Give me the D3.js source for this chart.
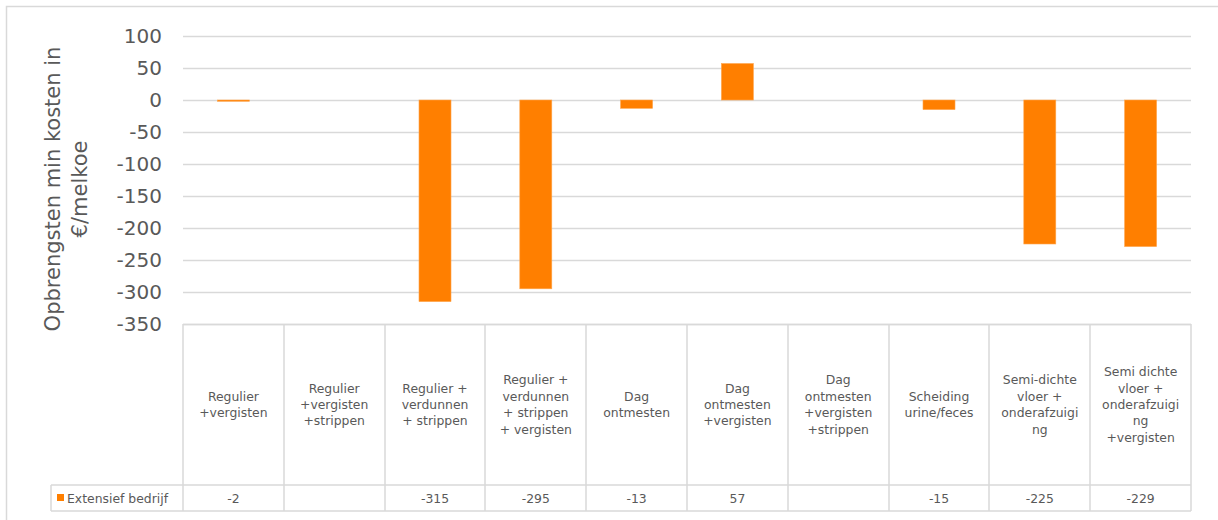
<!DOCTYPE html>
<html>
<head>
<meta charset="utf-8">
<script src="https://cdn.jsdelivr.net/npm/d3@7/dist/d3.min.js"></script>
<style>
  html, body { margin: 0; padding: 0; background: #fff; }
  svg { display: block; }
  text { font-family: "DejaVu Sans", Verdana, sans-serif; fill: #595959; }
</style>
</head>
<body>
<svg id="chart" width="1218" height="520"></svg>
<script>
// Scenario names (line breaks as shown in the data table)
const categories = [
  "Regulier\n+vergisten",
  "Regulier\n+vergisten\n+strippen",
  "Regulier +\nverdunnen\n+ strippen",
  "Regulier +\nverdunnen\n+ strippen\n+ vergisten",
  "Dag\nontmesten",
  "Dag\nontmesten\n+vergisten",
  "Dag\nontmesten\n+vergisten\n+strippen",
  "Scheiding\nurine/feces",
  "Semi-dichte\nvloer +\nonderafzuigi\nng",
  "Semi dichte\nvloer +\nonderafzuigi\nng\n+vergisten"
];
// Revenue minus costs per dairy cow (€), null = no value
const extensiefValues = [-2, null, -315, -295, -13, 57, null, -15, -225, -229];
const seriesName = "Extensief bedrijf";
const yTicks = [100, 50, 0, -50, -100, -150, -200, -250, -300, -350];
const yTitle = ["Opbrengsten min kosten in", "€/melkoe"];

const svg = d3.select("#chart");
const plotLeft = 183, plotRight = 1191, plotTop = 36, plotBottom = 324;
const tableBottom = 511, rowSplit = 485, legendLeft = 51;
const grid = "#d9d9d9";
const orange = "#ff7f00";

// Outer chart frame
svg.append("rect")
  .attr("x", 6.5).attr("y", 6.5).attr("width", 1230).attr("height", 530)
  .attr("fill", "none").attr("stroke", grid).attr("stroke-width", 1.5);

const y = d3.scaleLinear().domain([-350, 100]).range([plotBottom, plotTop]);
const idx = d3.range(categories.length);
const xBar = d3.scaleBand().domain(idx).range([plotLeft, plotRight])
  .paddingInner(0.6825).paddingOuter(0.6825 / 2);
const xCell = d3.scaleBand().domain(idx).range([plotLeft, plotRight]).padding(0);

// Gridlines
svg.append("g").selectAll("line").data(yTicks).join("line")
  .attr("x1", plotLeft).attr("x2", plotRight)
  .attr("y1", d => Math.round(y(d)) + 0.5).attr("y2", d => Math.round(y(d)) + 0.5)
  .attr("stroke", grid).attr("stroke-width", 1.5);

// Y axis tick labels (plain hyphen as minus sign)
const yAxis = d3.axisLeft(y).tickValues(yTicks).tickSize(0).tickPadding(0)
  .tickFormat(d => String(d));
const yg = svg.append("g").attr("transform", `translate(162,0)`).call(yAxis);
yg.select(".domain").remove();
yg.selectAll("text")
  .attr("font-family", "'DejaVu Sans', Verdana, sans-serif")
  .attr("font-size", 20).style("fill", "#595959");

// Y axis title
const title = svg.append("text")
  .attr("transform", "translate(66,189) rotate(-90)")
  .attr("text-anchor", "middle").attr("font-size", 21);
title.selectAll("tspan").data(yTitle).join("tspan")
  .attr("x", 0).attr("dy", (d, i) => i === 0 ? "-0.3em" : "1.3em")
  .text(d => d);

// Bars
svg.append("g").selectAll("rect")
  .data(extensiefValues.map((v, i) => ({ v, i })).filter(d => d.v !== null))
  .join("rect")
  .attr("x", d => xBar(d.i))
  .attr("width", xBar.bandwidth())
  .attr("y", d => y(Math.max(0, d.v)))
  .attr("height", d => Math.abs(y(d.v) - y(0)))
  .attr("fill", orange)
  .attr("stroke", "#ffa64d").attr("stroke-width", 0.6);

// Data table
const tg = svg.append("g");
tg.append("line").attr("x1", plotLeft).attr("x2", plotRight)
  .attr("y1", plotBottom + 0.5).attr("y2", plotBottom + 0.5)
  .attr("stroke", grid).attr("stroke-width", 1.5);
tg.append("line").attr("x1", legendLeft).attr("x2", plotRight)
  .attr("y1", rowSplit).attr("y2", rowSplit)
  .attr("stroke", grid).attr("stroke-width", 1.5);
tg.append("line").attr("x1", legendLeft).attr("x2", plotRight)
  .attr("y1", tableBottom).attr("y2", tableBottom)
  .attr("stroke", grid).attr("stroke-width", 1.5);
tg.append("line").attr("x1", legendLeft).attr("x2", legendLeft)
  .attr("y1", rowSplit).attr("y2", tableBottom)
  .attr("stroke", grid).attr("stroke-width", 1.5);
const borders = idx.map(i => xCell(i)).concat([plotRight]);
tg.selectAll("line.v").data(borders).join("line").attr("class", "v")
  .attr("x1", d => Math.round(d)).attr("x2", d => Math.round(d))
  .attr("y1", plotBottom).attr("y2", tableBottom)
  .attr("stroke", grid).attr("stroke-width", 1.5);

// Category labels, vertically centred in the header cells
const lineH = 16.4;
const cellMid = (plotBottom + rowSplit) / 2;
categories.forEach((c, i) => {
  const lines = c.split("\n");
  const t = tg.append("text")
    .attr("text-anchor", "middle").attr("font-size", 12.4)
    .attr("x", xCell(i) + xCell.bandwidth() / 2);
  lines.forEach((l, j) => {
    t.append("tspan")
      .attr("x", xCell(i) + xCell.bandwidth() / 2)
      .attr("y", cellMid + (j - (lines.length - 1) / 2) * lineH + 4.5)
      .text(l);
  });
});

// Value row
tg.selectAll("text.val").data(extensiefValues).join("text").attr("class", "val")
  .attr("x", (d, i) => xCell(i) + xCell.bandwidth() / 2)
  .attr("y", (rowSplit + tableBottom) / 2 + 4.5)
  .attr("text-anchor", "middle").attr("font-size", 12.4)
  .text(d => d === null ? "" : String(d));

// Legend key in the table
tg.append("rect").attr("x", 57).attr("y", 494).attr("width", 7).attr("height", 7)
  .attr("fill", orange);
tg.append("text").attr("x", 67).attr("y", (rowSplit + tableBottom) / 2 + 4.5)
  .attr("font-size", 12.4).text(seriesName);
</script>
</body>
</html>
